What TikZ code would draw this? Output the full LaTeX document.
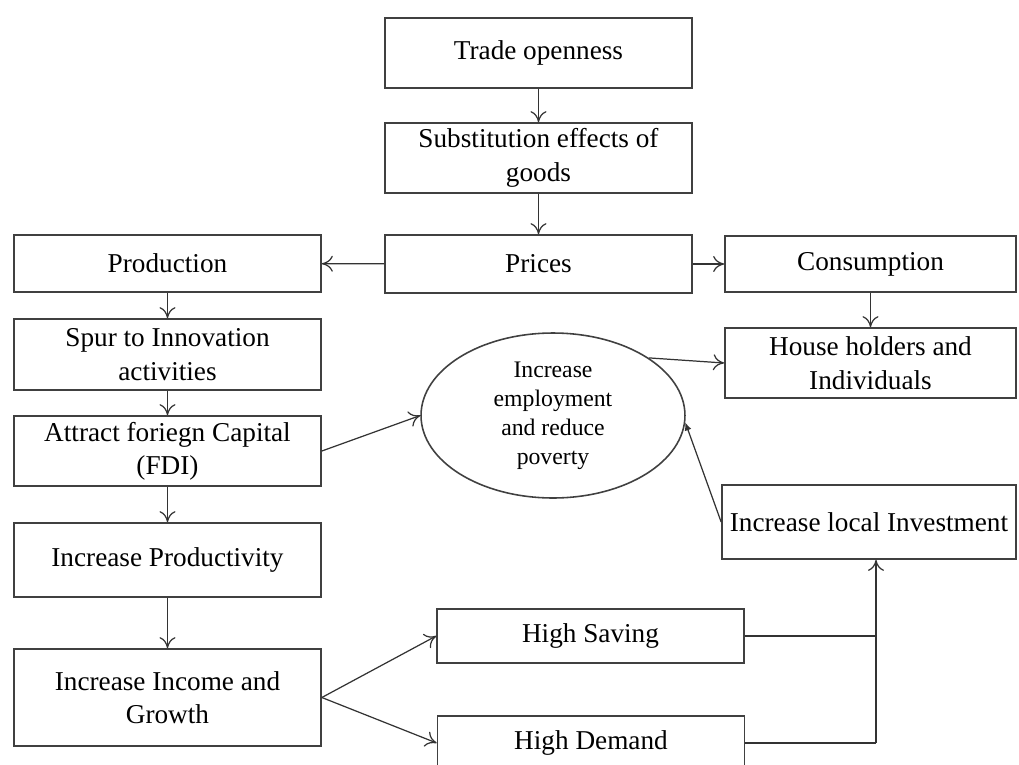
\documentclass[tikz,border=0pt]{standalone}
\usepackage{fontspec}
\setmainfont{Liberation Serif}
\usepackage{tikz}
\usetikzlibrary{positioning,arrows.meta,shapes.geometric}

\begin{document}
\begin{tikzpicture}[
  x=0.02cm, y=-0.02cm,
  box/.style={draw=black!75, line width=1pt, minimum width=6.14cm, align=center, inner sep=2pt, font=\fontsize{15.5}{19}\selectfont},
  oval/.style={draw=black!75, line width=0.9pt, ellipse, minimum width=5.28cm, minimum height=3.3cm, inner sep=0pt, align=center, font=\fontsize{13.5}{16.5}\selectfont},
  arr/.style={-{To[length=2.2mm,width=3.2mm]}, line width=0.7pt, draw=black!80},
  line/.style={line width=0.7pt, draw=black!80}
]
\clip (0,0) rectangle (1019,765);
\node[box, minimum height=1.4cm] (trade) at (538.5,53) {Trade openness};
\node[box, minimum height=1.4cm] (subst) at (538.5,158) {Substitution effects of\\goods};
\node[box, minimum height=1.16cm] (prices) at (538.5,264) {Prices};
\node[box, minimum height=1.14cm] (prod) at (167.5,263.5) {Production};
\node[box, minimum height=1.42cm] (spur) at (167.5,354.5) {Spur to Innovation\\activities};
\node[box, minimum height=1.4cm] (fdi) at (167.5,451) {Attract foriegn Capital\\(FDI)};
\node[box, minimum height=1.48cm] (prodty) at (167.5,560) {Increase Productivity};
\node[box, minimum height=1.94cm] (income) at (167.5,697.5) {Increase Income and\\Growth};
\node[box, minimum width=5.82cm, minimum height=1.12cm] (cons) at (870.5,264) {Consumption};
\node[box, minimum width=5.82cm, minimum height=1.4cm] (house) at (870.5,363) {House holders and\\Individuals};
\node[box, minimum width=5.88cm, minimum height=1.48cm] (invest) at (869,522) {Increase local Investment};
\node[box, minimum height=1.08cm] (saving) at (590.5,636) {High Saving};
\node[box, minimum height=1.08cm] (demand) at (591,743) {High Demand};
\node[oval] (employ) at (553,415.5) {Increase\\employment\\and reduce\\poverty};
\coordinate (merge) at (876,743);

\draw[arr] (trade) -- (subst);
\draw[arr] (subst) -- (prices);
\draw[arr] (prices) -- (prod);
\draw[arr] (prices) -- (cons);
\draw[arr] (cons) -- (house);
\draw[arr] (prod) -- (spur);
\draw[arr] (spur) -- (fdi);
\draw[arr] (fdi) -- (prodty);
\draw[arr] (prodty) -- (income);
\draw[arr] (fdi.east) -- (employ.west);
\draw[arr] (employ.31) -- (house.west);
\draw[-{Latex[length=1.6mm,width=1.4mm]}, line width=0.7pt, draw=black!80] (invest.west) -- (employ.-3);
\draw[arr] (income.east) -- (saving.west);
\draw[arr] (income.east) -- (demand.west);
\draw[line] (saving.east) -- (saving.east -| merge);
\draw[line] (demand.east) -- (merge);
\draw[arr] (merge) -- (merge |- invest.south);
\end{tikzpicture}
\end{document}
